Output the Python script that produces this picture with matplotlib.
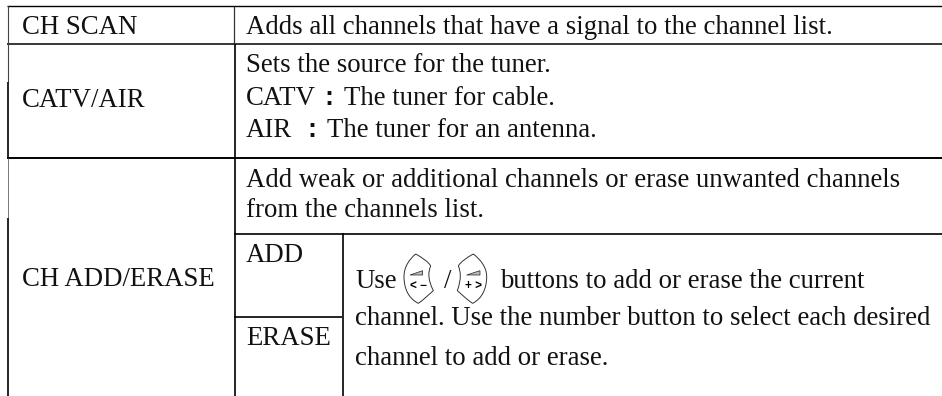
import matplotlib
matplotlib.use("Agg")
import matplotlib.pyplot as plt
from matplotlib.lines import Line2D
from matplotlib.path import Path
from matplotlib.patches import PathPatch, Polygon

W, H = 942, 396
left_labels = ["CH SCAN", "CATV/AIR", "CH ADD/ERASE"]
sub_labels = ["ADD", "ERASE"]
row1_text = "Adds all channels that have a signal to the channel list."
row2_title = "Sets the source for the tuner."
row2_keys = ["CATV", "AIR"]
row2_vals = ["The tuner for cable.", "The tuner for an antenna."]
row3_lines = ["Add weak or additional channels or erase unwanted channels", "from the channels list."]
body_lines = ["buttons to add or erase the current", "channel. Use the number button to select each desired", "channel to add or erase."]
button_labels = ["< \u2212", "+ >"]

plt.rcParams['font.family'] = ['Liberation Serif', 'DejaVu Sans']
fig = plt.figure(figsize=(W/100, H/100), dpi=100)
ax = fig.add_axes([0, 0, 1, 1])
ax.set_xlim(0, W); ax.set_ylim(H, 0); ax.axis('off')

def ln(x0, y0, x1, y1, lw=1.2, c='black'):
    ax.add_line(Line2D([x0, x1], [y0, y1], color=c, lw=lw, solid_capstyle='butt'))

# horizontal rules
ln(7, 6.3, W, 6.3, 1.0)
ln(7, 43.5, W, 43.5, 1.1)
ln(7, 158, W, 158, 1.4)
ln(234, 233.5, W, 233.5, 1.2)
ln(234, 317, 342, 317, 1.2)
# vertical rules (the scan is lighter in places)
ln(7.5, 6, 7.5, 82, 0.8, '#444444')
ln(7.7, 82, 7.7, 158, 1.2)
ln(7.5, 158, 7.5, 218, 0.7, '#777777')
ln(7.7, 218, 7.7, 396, 1.2)
ln(234.3, 6, 234.3, 44, 0.9, '#333333')
ln(234.5, 44, 234.5, 396, 1.2)
ln(342.5, 233, 342.5, 396, 1.2)

fs = 19.3
TC = '#111111'
def t(x, y, s):
    ax.text(x, y, s, fontsize=fs, va='baseline', ha='left', color=TC)

t(22, 34, left_labels[0])
t(22, 107, left_labels[1])
t(22, 286, left_labels[2])
t(246, 34, row1_text)
t(246, 72, row2_title)
t(246, 105, row2_keys[0])
t(246, 137, row2_keys[1])
for cx, tx, y, val in [(329, 344, 105, row2_vals[0]), (312, 327, 137, row2_vals[1])]:
    ax.text(cx, y, ":", fontsize=fs, fontweight='bold', va='baseline', ha='center', color=TC,
            family=['Liberation Sans', 'DejaVu Sans'])
    t(tx, y, val)
t(246, 187, row3_lines[0])
t(246, 217, row3_lines[1])
t(246, 262, sub_labels[0])
t(246, 345, sub_labels[1])
t(356, 288, "Use")
t(444, 288, "/")
t(500, 288, body_lines[0])
t(355, 325, body_lines[1])
t(355, 365, body_lines[2])

# remote-control button icons, outlined from the zoomed reference
def z(p):
    return (400 + p[0] / 3, 250 + p[1] / 3)

C4 = Path.CURVE4
left_btn = [(47, 12), (65, 22), (85, 35), (92, 48), (85, 65), (82, 85), (100, 122),
            (85, 135), (70, 150), (55, 160), (25, 145), (12, 115), (12, 80)]
left_btn_close = [(12, 50), (28, 28), (47, 12)]
right_btn = [(220, 12), (202, 22), (182, 35), (175, 48), (182, 65), (185, 85), (172, 122),
             (187, 135), (202, 150), (218, 160), (247, 145), (260, 115), (260, 80)]
right_btn_close = [(260, 50), (240, 28), (220, 12)]
for pts, close in [(left_btn, left_btn_close), (right_btn, right_btn_close)]:
    verts = [z(p) for p in pts + close]
    ax.add_patch(PathPatch(Path(verts, [Path.MOVETO] + [C4] * 15), fc='none', ec='#333333', lw=0.7))

for tri in ([(30, 75), (68, 62), (68, 75)], [(200, 75), (240, 62), (240, 75)]):
    ax.add_patch(Polygon([z(p) for p in tri], closed=True, fc='#bbbbbb', ec='#222222', lw=0.5))

for centre, label in [((55, 107), button_labels[0]), ((220, 107), button_labels[1])]:
    x, y = z(centre)
    ax.text(x, y, label, fontsize=8.5, fontweight='bold', ha='center', va='center',
            family=['Liberation Sans', 'DejaVu Sans'], color='black')

fig.savefig('out.png', dpi=100)
